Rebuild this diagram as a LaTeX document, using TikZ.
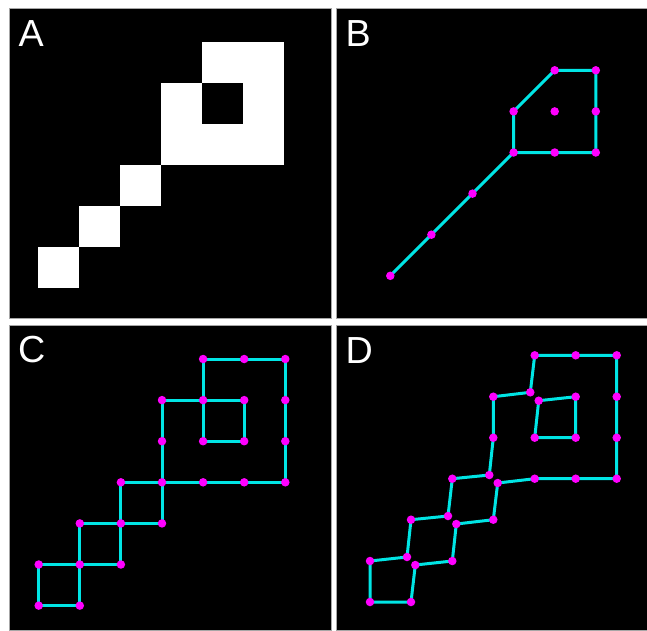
\documentclass[tikz,border=0pt]{standalone}
\usepackage{fontspec}
\setmainfont{Liberation Sans}
\definecolor{edgec}{RGB}{0,229,229}
\definecolor{dotc}{RGB}{255,0,255}
\tikzset{
  panel/.style={fill=black, draw=gray!70, line width=0.6pt},
  pix/.style={fill=white},
  edge/.style={draw=edgec, line width=3pt, line join=round, line cap=round},
  dot/.style={circle, fill=dotc, inner sep=0pt, minimum size=8.5pt},
  lbl/.style={text=white, font=\fontsize{37.7}{40}\selectfont, anchor=base west, inner sep=0pt}
}
\begin{document}
\begin{tikzpicture}[x=1pt,y=-1pt]
\useasboundingbox (0,0) rectangle (647,630);
\fill[white] (0,0) rectangle (647,630);
% panels
\path[panel] (9,8.5) rectangle (331,318.5);
\path[panel] (336,8.5) rectangle (647,318.5);
\path[panel] (9,325) rectangle (331,630);
\path[panel] (336,325) rectangle (647,630);
% labels
\node[lbl] (la) at (18.5,46.7) {A};
\node[lbl] (lb) at (345.3,46.3) {B};
\node[lbl] (lc) at (18,362.7) {C};
\node[lbl] (ld) at (345.3,363.3) {D};
% ---------- Panel A ----------
\foreach \i in {0,...,6} \foreach \j in {0,...,6}
  \coordinate (a\i\j) at ({37.7+41.1*\i},{41.7+41.1*\j});
\fill[pix] (a40) rectangle (a61);
\fill[pix] (a31) rectangle (a42);
\fill[pix] (a51) rectangle (a62);
\fill[pix] (a32) rectangle (a63);
\fill[pix] (a23) rectangle (a34);
\fill[pix] (a14) rectangle (a25);
\fill[pix] (a05) rectangle (a16);
% ---------- Panel B ----------
\foreach \i in {0,...,5} \foreach \j in {0,...,5}
  \coordinate (b\i\j) at ({390.3+41.1*\i},{70.3+41.1*\j});
\draw[edge] (b05) -- (b14) -- (b23) -- (b32);
\draw[edge] (b32) -- (b42) -- (b52) -- (b51) -- (b50) -- (b40) -- (b31) -- cycle;
\foreach \p in {05,14,23,32,42,52,51,50,40,31,41}
  \node[dot] (bd\p) at (b\p) {};
% ---------- Panel C ----------
\foreach \i in {0,...,6} \foreach \j in {0,...,6}
  \coordinate (c\i\j) at ({38.7+41.1*\i},{359+41.1*\j});
\draw[edge] (c40) -- (c50) -- (c60);
\draw[edge] (c31) -- (c41) -- (c51);
\draw[edge] (c42) -- (c52);
\draw[edge] (c23) -- (c33) -- (c43) -- (c53) -- (c63);
\draw[edge] (c14) -- (c24) -- (c34);
\draw[edge] (c05) -- (c15) -- (c25);
\draw[edge] (c06) -- (c16);
\draw[edge] (c40) -- (c41) -- (c42);
\draw[edge] (c60) -- (c61) -- (c62) -- (c63);
\draw[edge] (c31) -- (c32) -- (c33) -- (c34);
\draw[edge] (c51) -- (c52);
\draw[edge] (c23) -- (c24) -- (c25);
\draw[edge] (c14) -- (c15) -- (c16);
\draw[edge] (c05) -- (c06);
\foreach \p in {40,50,60,31,41,51,61,32,42,52,62,23,33,43,53,63,14,24,34,05,15,25,06,16}
  \node[dot] (cd\p) at (c\p) {};
% ---------- Panel D ----------
\coordinate (d1) at (534.7,355.3);
\coordinate (d2) at (575.7,355.3);
\coordinate (d3) at (616.7,355.3);
\coordinate (d4) at (616.7,396.7);
\coordinate (d5) at (616.7,437.7);
\coordinate (d6) at (616.7,478.7);
\coordinate (d7) at (575.7,478.7);
\coordinate (d8) at (534.7,478.7);
\coordinate (d9) at (497.7,483);
\coordinate (d10) at (493.3,519.7);
\coordinate (d11) at (456.3,524);
\coordinate (d12) at (452.3,561);
\coordinate (d13) at (415.3,565);
\coordinate (d14) at (411,602);
\coordinate (d15) at (370,602);
\coordinate (d16) at (370,561);
\coordinate (d17) at (407,557);
\coordinate (d18) at (411,519.7);
\coordinate (d19) at (448,516);
\coordinate (d20) at (452.3,478.7);
\coordinate (d21) at (489.3,475);
\coordinate (d22) at (493.3,437.7);
\coordinate (d23) at (493.3,396.7);
\coordinate (d24) at (530.3,392.3);
\coordinate (e1) at (538.7,400.7);
\coordinate (e2) at (575.7,396.7);
\coordinate (e3) at (575.7,437.7);
\coordinate (e4) at (534.7,437.7);
\draw[edge] (d1) -- (d2) -- (d3) -- (d4) -- (d5) -- (d6) -- (d7) -- (d8) -- (d9) -- (d10) -- (d11) -- (d12) -- (d13) -- (d14) -- (d15) -- (d16) -- (d17) -- (d18) -- (d19) -- (d20) -- (d21) -- (d22) -- (d23) -- (d24) -- cycle;
\draw[edge] (e1) -- (e2) -- (e3) -- (e4) -- cycle;
\foreach \p in {d1,d2,d3,d4,d5,d6,d7,d8,d9,d10,d11,d12,d13,d14,d15,d16,d17,d18,d19,d20,d21,d22,d23,d24,e1,e2,e3,e4}
  \node[dot] (dd\p) at (\p) {};
\end{tikzpicture}
\end{document}
